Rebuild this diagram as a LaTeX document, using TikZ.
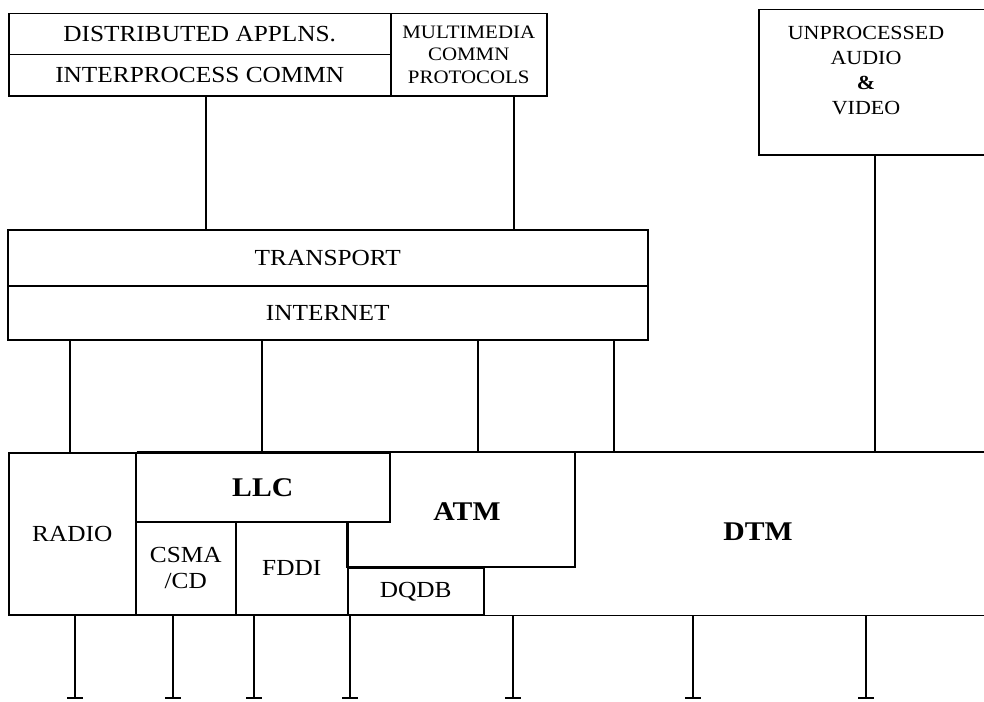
\documentclass[tikz,border=0pt]{standalone}
\usepackage{fontspec}
\setmainfont{Liberation Serif}[FakeStretch=1.1]
\begin{document}
\begin{tikzpicture}[x=1pt,y=-1pt,line width=1.5pt,font=\fontsize{23}{26}\selectfont,
	box/.style={draw,inner sep=0pt,anchor=north west,align=center},
	nhan/.style={align=center,inner sep=0pt},
	dam/.style={font=\fontsize{27}{30}\selectfont\bfseries}]
			\useasboundingbox (0,0) rectangle (984,701);
			\clip (0,0) rectangle (984,701);
			% tang tren
			\node[box,minimum width=382,minimum height=41] (dist) at (8,13) {DISTRIBUTED APPLNS.};
			\node[box,minimum width=382,minimum height=41] (interp) at (8,54) {INTERPROCESS COMMN};
			\node[box,minimum width=156,minimum height=82,font=\fontsize{19}{22.5}\selectfont] (multi) at (390,13) {MULTIMEDIA\\COMMN\\PROTOCOLS};
			\node[box,minimum width=240,minimum height=145] (raw) at (758,9) {};
			\node[nhan,font=\fontsize{20}{25}\selectfont] (rawtxt) at (866,71) {UNPROCESSED\\AUDIO\\\textbf{\&}\\VIDEO};
			\node[box,minimum width=640,minimum height=56] (transport) at (7,229) {TRANSPORT};
			\node[box,minimum width=640,minimum height=54] (internet) at (7,285) {INTERNET};
			% tang duoi
			\node[box,minimum width=127,minimum height=162] (radio) at (8,452) {RADIO};
			\node[box,dam,minimum width=254,minimum height=69] (llc) at (135,452) {LLC};
			\node[box,minimum width=100,minimum height=93] (csma) at (135,521) {CSMA\\/CD};
			\node[box,minimum width=112,minimum height=93] (fddi) at (235,521) {FDDI};
			\node[box,minimum width=136,minimum height=47] (dqdb) at (347,567) {DQDB};
			\draw (575,0 |- radio.north) |- (dqdb.north west) -- (dqdb.west |- llc.south);
			\node[nhan,dam] (atm) at (467,512) {ATM};
			\node[nhan,dam] (dtm) at (758,532) {DTM};
			\draw (radio.north east) -- (984,0 |- radio.north);
			\draw (radio.south east) -- (984,0 |- radio.south);
			\coordinate (day) at (0,698);
			% noi cac tang
			\draw (206,0 |- interp.south) -- (206,0 |- transport.north);
			\draw (514,0 |- multi.south) -- (514,0 |- transport.north);
			\draw (875,0 |- raw.south) -- (875,0 |- radio.north);
			\foreach \vitri in {70,262,478,614} \draw (\vitri,0 |- internet.south) -- (\vitri,0 |- radio.north);
			\foreach \vitri in {75,173,254,350,513,693,866} \draw (\vitri,0 |- radio.south) -- (\vitri,0 |- day) ++(-8,0) -- ++(16,0);
		\end{tikzpicture}
\end{document}
